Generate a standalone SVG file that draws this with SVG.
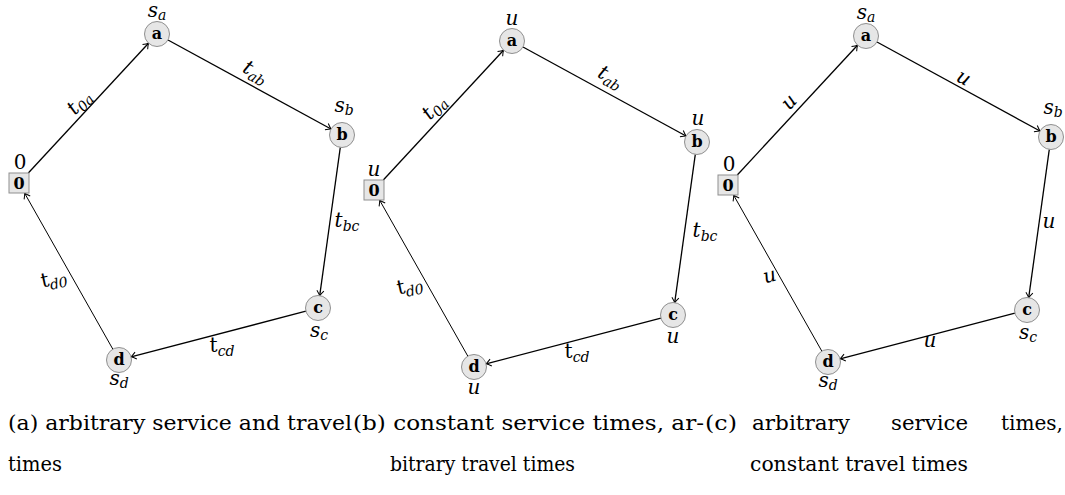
<svg xmlns="http://www.w3.org/2000/svg" width="1065" height="495" viewBox="0 0 1065 495" font-family="'DejaVu Serif', 'Liberation Serif', serif">
<defs>
<marker id="arr" viewBox="-6 -5 8 10" refX="0" refY="0" markerWidth="8" markerHeight="10" markerUnits="userSpaceOnUse" orient="auto">
<path d="M-5,-3.5 Q-1.8,-1 0,0 Q-1.8,1 -5,3.5" fill="none" stroke="#000" stroke-width="1"/>
</marker>
</defs>
<style>
text{font-family:'DejaVu Serif','Liberation Serif',serif}
.e{stroke:#000;stroke-width:1.3;fill:none;marker-end:url(#arr)}
.e2{stroke-width:1}
.n{fill:#e6e6e6;stroke:#8f8f8f;stroke-width:1}
.nl{font-weight:bold;font-size:16px;text-anchor:middle}
.m{font-style:italic;font-size:20px;text-anchor:middle}
.sub{font-size:14px}
.up{font-style:normal}
.cap{font-size:21px}
</style>
<rect width="1065" height="495" fill="#fff"/>

<!-- Panel (a) -->
<g id="panelA">
<g id="edgesA">
<line class="e" x1="28.3" y1="173" x2="148.5" y2="43.2"/>
<line class="e" x1="168" y1="40" x2="331" y2="129"/>
<line class="e" x1="340.3" y1="147.4" x2="319.7" y2="295.6"/>
<line class="e" x1="305.9" y1="311.2" x2="131.1" y2="356.8"/>
<line class="e e2" x1="112.8" y1="349.1" x2="24.7" y2="193.3"/>
<text class="m" transform="translate(80,103) rotate(-47.2)" y="5">t<tspan class="sub" dy="4">0a</tspan></text>
<text class="m" transform="translate(255,73) rotate(28.6)" y="5">t<tspan class="sub" dy="4">ab</tspan></text>
<text class="m" transform="translate(347,222)" y="5">t<tspan class="sub" dy="4">bc</tspan></text>
<text class="m" transform="translate(54,280) rotate(-12)" y="5"><tspan class="up">t</tspan><tspan class="sub" dy="4">d0</tspan></text>
<text class="m" transform="translate(222,347)" y="5"><tspan class="up">t</tspan><tspan class="sub" dy="4">cd</tspan></text>
</g>
<g id="A-0"><rect class="n" x="9" y="173" width="20" height="20"/><text class="nl" x="19" y="189">0</text><text class="m up" x="20" y="169">0</text></g>
<g id="A-a"><circle class="n" cx="157" cy="34" r="12.5"/><text class="nl" x="157" y="39">a</text><text class="m" x="157" y="17">s<tspan class="sub" dy="3">a</tspan></text></g>
<g id="A-b"><circle class="n" cx="342" cy="135" r="12.5"/><text class="nl" x="342" y="140">b</text><text class="m" x="344" y="112">s<tspan class="sub" dy="3">b</tspan></text></g>
<g id="A-c"><circle class="n" cx="318" cy="308" r="12.5"/><text class="nl" x="318" y="313">c</text><text class="m" x="319" y="337">s<tspan class="sub" dy="3">c</tspan></text></g>
<g id="A-d"><circle class="n" cx="119" cy="360" r="12.5"/><text class="nl" x="119" y="365">d</text><text class="m" x="119" y="385">s<tspan class="sub" dy="3">d</tspan></text></g>
</g>

<!-- Panel (b) -->
<g id="panelB" transform="translate(355,7)">
<g id="edgesB">
<line class="e" x1="28.3" y1="173" x2="148.5" y2="43.2"/>
<line class="e" x1="168" y1="40" x2="331" y2="129"/>
<line class="e" x1="340.3" y1="147.4" x2="319.7" y2="295.6"/>
<line class="e" x1="305.9" y1="311.2" x2="131.1" y2="356.8"/>
<line class="e e2" x1="112.8" y1="349.1" x2="24.7" y2="193.3"/>
<text class="m" transform="translate(80,101) rotate(-47.2)" y="5">t<tspan class="sub" dy="4">0a</tspan></text>
<text class="m" transform="translate(255,71) rotate(28.6)" y="5">t<tspan class="sub" dy="4">ab</tspan></text>
<text class="m" transform="translate(350,225)" y="5">t<tspan class="sub" dy="4">bc</tspan></text>
<text class="m" transform="translate(55,280) rotate(-12)" y="5"><tspan class="up">t</tspan><tspan class="sub" dy="4">d0</tspan></text>
<text class="m" transform="translate(222,346)" y="5"><tspan class="up">t</tspan><tspan class="sub" dy="4">cd</tspan></text>
</g>
<g id="B-0"><rect class="n" x="9" y="173" width="20" height="20"/><text class="nl" x="19" y="189">0</text><text class="m" x="19" y="169">u</text></g>
<g id="B-a"><circle class="n" cx="157" cy="34" r="12.5"/><text class="nl" x="157" y="39">a</text><text class="m" x="157" y="18">u</text></g>
<g id="B-b"><circle class="n" cx="342" cy="135" r="12.5"/><text class="nl" x="342" y="140">b</text><text class="m" x="343" y="118">u</text></g>
<g id="B-c"><circle class="n" cx="318" cy="308" r="12.5"/><text class="nl" x="318" y="313">c</text><text class="m" x="318" y="336">u</text></g>
<g id="B-d"><circle class="n" cx="119" cy="360" r="12.5"/><text class="nl" x="119" y="365">d</text><text class="m" x="119" y="387">u</text></g>
</g>

<!-- Panel (c) -->
<g id="panelC" transform="translate(709,2)">
<g id="edgesC">
<line class="e" x1="28.3" y1="173" x2="148.5" y2="43.2"/>
<line class="e" x1="168" y1="40" x2="331" y2="129"/>
<line class="e" x1="340.3" y1="147.4" x2="319.7" y2="295.6"/>
<line class="e" x1="305.9" y1="311.2" x2="131.1" y2="356.8"/>
<line class="e e2" x1="112.8" y1="349.1" x2="24.7" y2="193.3"/>
<text class="m" transform="translate(81,101) rotate(-47.2)" y="5">u</text>
<text class="m" transform="translate(254,77) rotate(28.6)" y="5">u</text>
<text class="m" transform="translate(340,221)" y="5">u</text>
<text class="m" transform="translate(61,275) rotate(-15)" y="5">u</text>
<text class="m" transform="translate(221,340)" y="5">u</text>
</g>
<g id="C-0"><rect class="n" x="9" y="173" width="20" height="20"/><text class="nl" x="19" y="189">0</text><text class="m up" x="20" y="169">0</text></g>
<g id="C-a"><circle class="n" cx="157" cy="34" r="12.5"/><text class="nl" x="157" y="39">a</text><text class="m" x="157" y="17">s<tspan class="sub" dy="3">a</tspan></text></g>
<g id="C-b"><circle class="n" cx="342" cy="135" r="12.5"/><text class="nl" x="342" y="140">b</text><text class="m" x="344" y="112">s<tspan class="sub" dy="3">b</tspan></text></g>
<g id="C-c"><circle class="n" cx="318" cy="308" r="12.5"/><text class="nl" x="318" y="313">c</text><text class="m" x="319" y="337">s<tspan class="sub" dy="3">c</tspan></text></g>
<g id="C-d"><circle class="n" cx="119" cy="360" r="12.5"/><text class="nl" x="119" y="365">d</text><text class="m" x="119" y="385">s<tspan class="sub" dy="3">d</tspan></text></g>
</g>

<!-- Captions -->
<g id="captions" class="cap">
<text class="cap" x="8" y="430" textLength="344" lengthAdjust="spacingAndGlyphs">(a) arbitrary service and travel</text>
<text class="cap" x="353" y="430" textLength="351" lengthAdjust="spacingAndGlyphs">(b) constant service times, ar-</text>
<text class="cap" x="705" y="430" textLength="32" lengthAdjust="spacingAndGlyphs">(c)</text>
<text class="cap" x="752" y="430" textLength="98" lengthAdjust="spacingAndGlyphs">arbitrary</text>
<text class="cap" x="891" y="430" textLength="77" lengthAdjust="spacingAndGlyphs">service</text>
<text class="cap" x="1001" y="430" textLength="62" lengthAdjust="spacingAndGlyphs">times,</text>
<text class="cap" x="8" y="471" textLength="54" lengthAdjust="spacingAndGlyphs">times</text>
<text class="cap" x="390" y="471" textLength="185" lengthAdjust="spacingAndGlyphs">bitrary travel times</text>
<text class="cap" x="750" y="471" textLength="218" lengthAdjust="spacingAndGlyphs">constant travel times</text>
</g>
</svg>
